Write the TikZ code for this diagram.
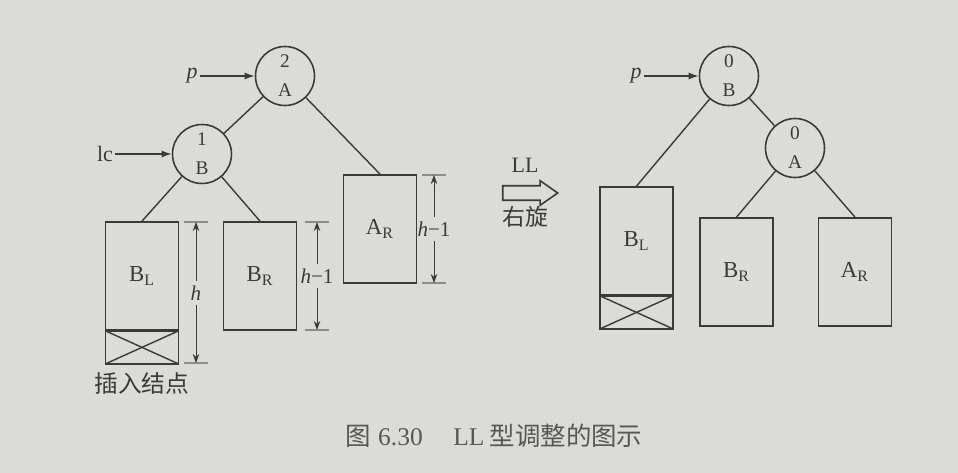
\documentclass[tikz,border=0pt]{standalone}
\usepackage{fontspec}
\setmainfont{Liberation Serif}
\newfontfamily\cjk{Noto Sans CJK SC}
\usepackage{tikz}
\usetikzlibrary{positioning, arrows.meta, shapes.arrows}
\definecolor{paper}{RGB}{219,219,216}
\definecolor{ink}{RGB}{58,58,58}
\definecolor{rulegray}{RGB}{140,140,140}
\newcommand{\ptrarrow}{-{Latex[length=2mm,width=1.4mm]}}
\newcommand{\dimarrow}{-{Stealth[length=1.8mm,width=1.3mm]}}
\tikzset{
    avl/.style={circle, draw=ink, line width=0.9pt, minimum size=1.18cm, inner sep=0pt,
        align=center, font=\fontsize{11}{16.5}\selectfont},
    subtree/.style={rectangle, draw=ink, line width=1pt, minimum width=1.46cm,
        minimum height=2.16cm, inner sep=0pt, font=\fontsize{13}{15}\selectfont},
    grown/.style={rectangle, draw=ink, line width=1pt, minimum width=1.46cm,
        minimum height=0.66cm, inner sep=0pt, outer sep=0pt},
    tag/.style={text=ink, inner sep=1pt, font=\fontsize{12.5}{14}\selectfont},
    dimlbl/.style={text=ink, inner sep=2.5pt, font=\fontsize{12}{14}\selectfont},
    tick/.style={draw=rulegray, line width=1pt},
    link/.style={draw=ink, line width=0.8pt}
}

\begin{document}
\begin{tikzpicture}[x=0.02cm, y=-0.02cm, text=ink]
        \fill[paper] (0,0) rectangle (958,473);

        \node[avl] (A1) at (285,76) {2\\A};
        \node[avl] (B1) at (202,154) {1\\B};
        \node[subtree] (BL1) at (142,276) {B\textsubscript{L}};
        \node[grown, below=0pt of BL1] (X1) {};
        \node[subtree] (BR1) at (260,276) {B\textsubscript{R}};
        \node[subtree] (AR1) at (380,229) {A\textsubscript{R}};
        \draw[link] (A1) -- (B1);
        \draw[link] (A1) -- (AR1.north);
        \draw[link] (B1) -- (BL1.north);
        \draw[link] (B1) -- (BR1.north);
        \draw[link] (X1.north west) -- (X1.south east);
        \draw[link] (X1.south west) -- (X1.north east);

        \node[tag] (p1) at (192,76) {\itshape p};
        \draw[link, \ptrarrow] (p1) -- (A1);
        \node[tag] (lc) at (105,154) {lc};
        \draw[link, \ptrarrow] (lc) -- (B1);
        \node[tag, font=\cjk\fontsize{13.5}{15}\selectfont] (ins) at (142,383) {插入结点};

        \coordinate (hT) at (196,222);
        \coordinate (hB) at (196,363);
        \draw[tick] (hT) ++(-12,0) -- ++(24,0);
        \draw[tick] (hB) ++(-12,0) -- ++(24,0);
        \node[dimlbl] (h1) at (196,293) {\itshape h};
        \draw[ink, \dimarrow] (h1) -- (hT);
        \draw[ink, \dimarrow] (h1) -- (hB);

        \coordinate (mT) at (317,222);
        \coordinate (mB) at (317,330);
        \draw[tick] (mT) ++(-12,0) -- ++(24,0);
        \draw[tick] (mB) ++(-12,0) -- ++(24,0);
        \node[dimlbl] (h2) at (317,276) {{\itshape h}−1};
        \draw[ink, \dimarrow] (h2) -- (mT);
        \draw[ink, \dimarrow] (h2) -- (mB);

        \coordinate (nT) at (434,175);
        \coordinate (nB) at (434,283);
        \draw[tick] (nT) ++(-12,0) -- ++(24,0);
        \draw[tick] (nB) ++(-12,0) -- ++(24,0);
        \node[dimlbl] (h3) at (434,229) {{\itshape h}−1};
        \draw[ink, \dimarrow] (h3) -- (nT);
        \draw[ink, \dimarrow] (h3) -- (nB);

        \node[single arrow, draw=ink, line width=0.9pt, minimum height=1.1cm,
            single arrow head extend=0.1cm, single arrow tip angle=70,
            inner sep=0.13cm] (turn) at (525,193) {};
        \node[tag, above=6pt of turn] (ll) {LL};
        \node[tag, below=2pt of turn, font=\cjk\fontsize{13}{15}\selectfont] (rot) {右旋};

        \node[avl] (B2) at (729,76) {0\\B};
        \node[avl] (A2) at (795,148) {0\\A};
        \node[subtree] (BL2) at (636.5,241) {B\textsubscript{L}};
        \node[grown, below=0pt of BL2] (X2) {};
        \node[subtree] (BR2) at (736.5,272) {B\textsubscript{R}};
        \node[subtree] (AR2) at (855,272) {A\textsubscript{R}};
        \draw[link] (B2) -- (A2);
        \draw[link] (B2) -- (BL2.north);
        \draw[link] (A2) -- (BR2.north);
        \draw[link] (A2) -- (AR2.north);
        \draw[link] (X2.north west) -- (X2.south east);
        \draw[link] (X2.south west) -- (X2.north east);

        \node[tag] (p2) at (636,76) {\itshape p};
        \draw[link, \ptrarrow] (p2) -- (B2);

        \node[tag, anchor=west, text=ink!85, font=\fontsize{14.5}{16}\selectfont] (cap) at (343,436)
            {{\cjk 图}\hspace{0.3em}6.30\hspace{1.2em}LL\hspace{0.2em}{\cjk 型调整的图示}};
\end{tikzpicture}
\end{document}
